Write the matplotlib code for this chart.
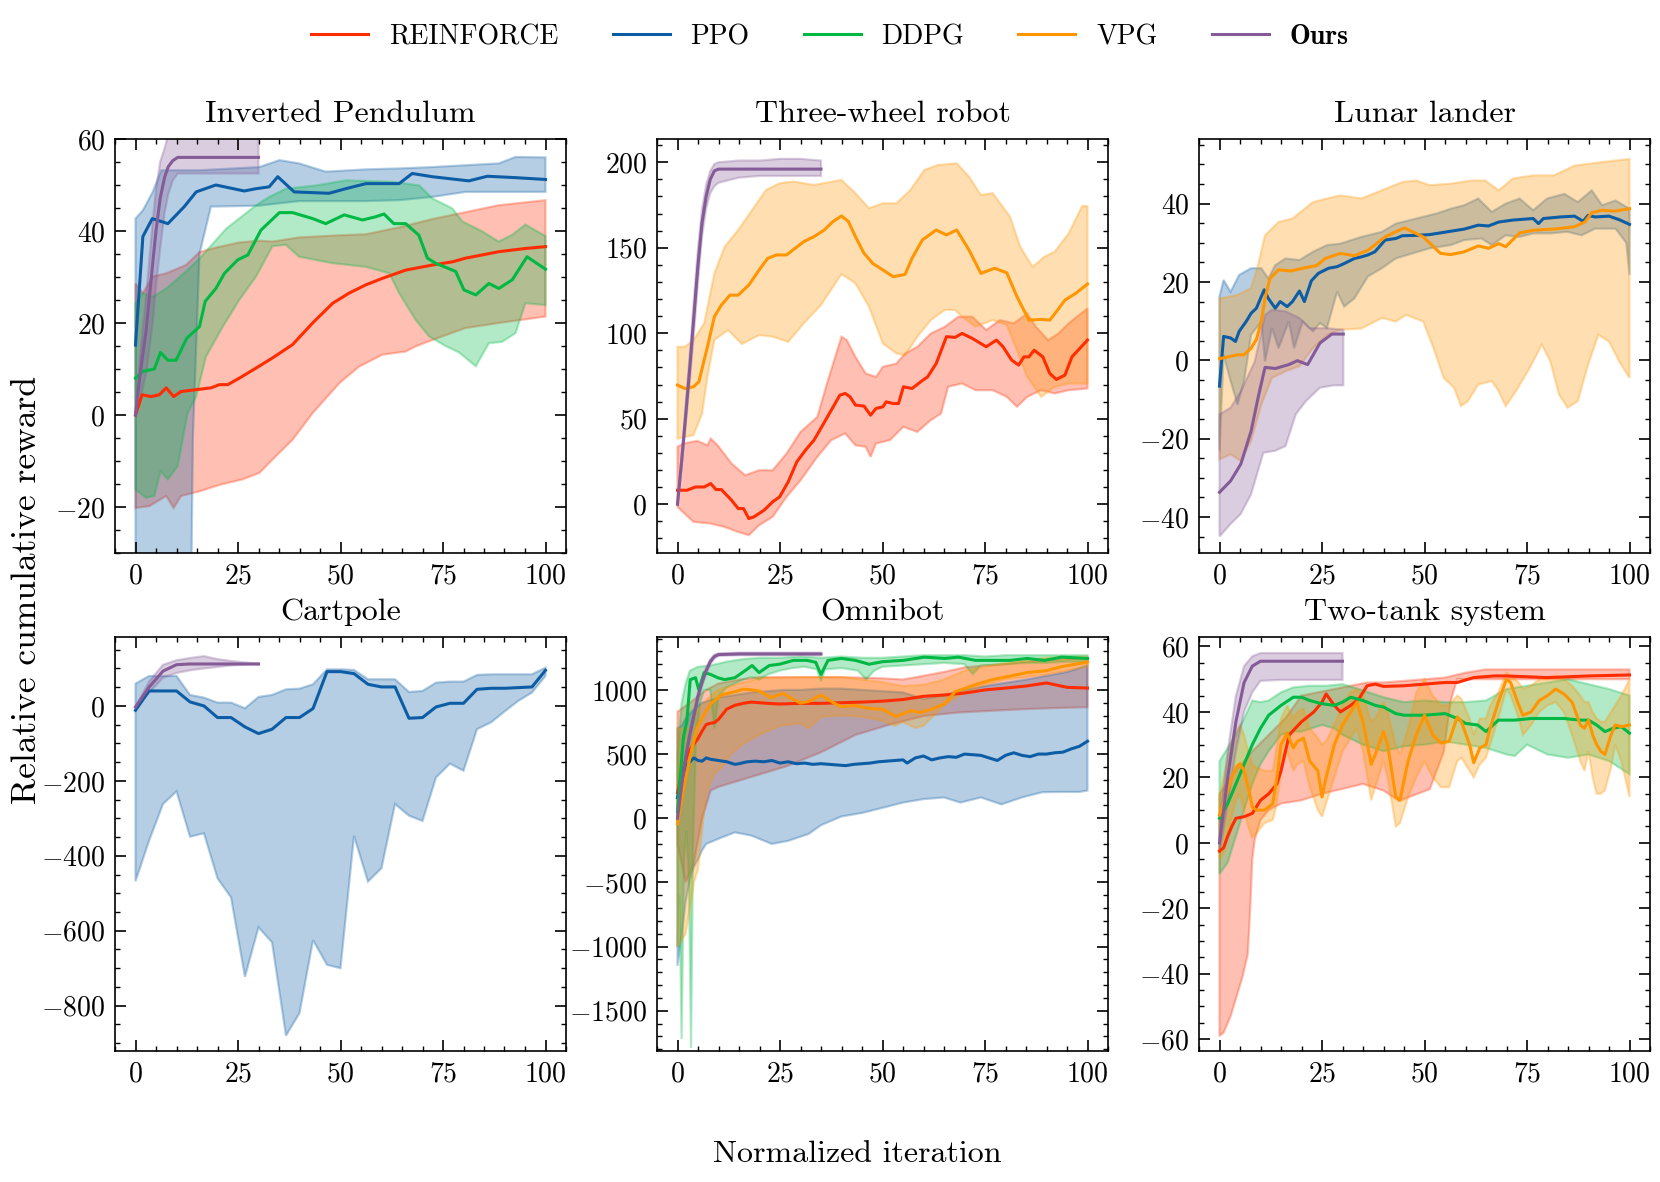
import numpy as np
import matplotlib
matplotlib.use("Agg")
import matplotlib.pyplot as plt
from matplotlib.ticker import AutoMinorLocator, FixedLocator
from matplotlib.font_manager import FontProperties
from matplotlib.lines import Line2D

plt.rcParams.update({
    "font.family": "serif",
    "font.serif": ["cmr10"],
    "mathtext.fontset": "cm",
    "axes.formatter.use_mathtext": True,
    "axes.unicode_minus": True,
    "axes.linewidth": 0.6,
    "xtick.direction": "in", "ytick.direction": "in",
    "xtick.top": True, "ytick.right": True,
    "xtick.minor.visible": True, "ytick.minor.visible": True,
    "xtick.major.size": 3.8, "ytick.major.size": 3.8,
    "xtick.minor.size": 1.9, "ytick.minor.size": 1.9,
    "xtick.major.width": 0.6, "ytick.major.width": 0.6,
    "xtick.minor.width": 0.5, "ytick.minor.width": 0.5,
    "xtick.labelsize": 10, "ytick.labelsize": 10,
})

ALGOS = ["REINFORCE", "PPO", "DDPG", "VPG", "Ours"]
COLORS = ["#FF2C00", "#0C5DA5", "#00B945", "#FF9500", "#845B97"]
TITLES = ["Inverted Pendulum", "Three-wheel robot", "Lunar lander",
          "Cartpole", "Omnibot", "Two-tank system"]
XTICKS = [0, 25, 50, 75, 100]

# ---------------- Inverted Pendulum ----------------
IP_REIN_X = [0,1.6,3.8,5.8,7.5,9.3,11.1,15.6,18.4,20.5,22.5,25.3,29.4,33.4,38.3,43.2,48.1,52.1,56.2,60.2,65.9,72.4,77.3,80.5,84.6,88.6,95.1,100]
IP_REIN_Y = [0,4.4,4,4.4,5.9,4,5.1,5.6,5.9,6.6,6.6,8,10.2,12.4,15.3,20,24.3,26.5,28.3,29.7,31.5,32.6,33.3,34.1,34.8,35.5,36.2,36.6]
IP_REIN_UX = [0,1.8,4.2,7.5,12.3,15.6,19.6,25.3,30.2,33.4,39.9,48.1,56.2,64.3,72.4,80.5,88.6,100]
IP_REIN_U = [28.6,26.5,30.1,30.8,32.6,35.4,36.4,37.5,37.9,37.7,38.6,39,39.3,40.8,42.6,44.1,45.6,46.7]
IP_REIN_LX = [0,3.4,7.5,9.3,11.1,15.6,20.5,26.1,30.2,35.1,38.3,43.2,49.7,54.5,60.2,65.9,68.3,72.4,80.5,88.6,100]
IP_REIN_L = [-20.2,-19.8,-17.6,-20.2,-17.6,-16.6,-15.2,-14,-12.6,-8.2,-5.4,0.4,6.9,10.5,13.1,13.8,14.9,16.3,18.9,20,21.4]

IP_PPO_X = [0,1.8,4.1,7.9,11.9,14.8,19.6,26.5,29.4,32.6,34.7,38.7,47.2,51.3,56.2,64.3,67.5,72.4,81.3,85.8,92.7,100]
IP_PPO_Y = [15.2,38.8,42.7,41.6,45.3,48.5,50,48.7,49.2,49.6,51.8,48.5,48.2,49.2,50.3,50.3,52.5,51.8,50.9,51.9,51.6,51.2]
IP_PPO_UX = [0,1.8,4.2,6.3,9.9,15.6,30.2,35.1,39.9,46.4,56.2,64.3,72.4,80.5,88.6,92.7,100]
IP_PPO_U = [42.7,44.5,48.5,53.2,53.2,53.2,53.9,55.4,54.7,52.9,53.4,53.6,53.9,54.3,54.7,56.1,56]
IP_PPO_LX = [0,13.5,14,14.6,15.6,18.4,30,40,56,64.3,72.4,80.5,100]
IP_PPO_L = [-45,-45,-5,10,35,45.3,45.5,46.5,46.5,46.7,47.4,48.5,48.5]

IP_DDPG_X = [0,1.8,4.6,6.1,7.9,9.9,12.5,15.6,17,19.6,21.7,24.9,27.4,30.6,35.1,38.3,43.2,46.4,50.9,55.4,58.6,60.6,63,65.9,69.1,71.2,73.2,78.1,80.1,83,86.2,88.6,91.9,95.5,100]
IP_DDPG_Y = [8,9.5,10,13.6,11.9,11.9,16.7,19.2,24.7,27.5,30.8,33.7,34.8,40.2,44,44,42.7,41.6,43.5,42.4,43.1,43.7,41.6,41.6,39.1,34.1,33,31.2,27.2,26.1,28.6,27.5,29.4,34.4,31.7]
IP_DDPG_UX = [0,1.8,4.2,7.5,12.3,15.6,22.1,29.4,32.6,36.7,44,51.3,62.7,69.2,72.4,77.3,79.7,84.6,88.6,91.9,95.1,100]
IP_DDPG_U = [24.3,26.5,25.7,27.5,31.2,34,40.5,45.6,47.4,49.2,49.9,51,50.7,49.9,47.1,44.9,42.1,39.9,37.7,39.2,41.4,38.9]
IP_DDPG_LX = [0,2.6,4.6,6.1,7.9,10.3,12.7,14.8,17.2,21.3,25.3,29.4,33.4,36.7,39.9,48.1,56.2,61.9,64.3,68.3,71.6,75.6,78.9,83,86.2,89.4,92.7,95.1,100]
IP_DDPG_L = [-16.2,-18,-17.6,-12.2,-14,-11.1,0.4,4,12.7,19.2,25,30.1,36.7,37,34.4,33,32.2,30.8,26.5,20.7,17.1,15,13.6,10.6,15.6,15.9,17.8,24.3,23.9]

IP_OURS_X = [0,1,2.6,4.2,5,6,7.1,8,9.1,10.3,15,20,25,30]
IP_OURS_Y = [0,8,18.5,33,40,47,51.7,54,55.3,56,56,56,56,56]
IP_OURS_U = [0,12,26,42,49,55,58,61,63,64,65,65,65,65]
IP_OURS_L = [0,3,9,20,28,36,44,48,51,52.5,52.5,52.5,52.5,52.5]

# ---------------- Three-wheel robot ----------------
TW_REIN_X = [0,2.3,4.4,6.5,8.1,9.4,10.7,13.2,14.8,16.1,17.4,18.6,21.1,23.2,24.9,27,29.1,31.2,33.3,35.4,37.5,39.6,40.9,42.1,43.4,45.5,47.1,48.4,50.1,50.9,52.6,53.9,55.1,57.2,59.3,61,63.1,65.6,67.7,69.4,71.9,75.3,77.8,79.4,81.5,83.2,84.5,85.7,87,89.1,90.8,92.4,94.5,96.2,100]
TW_REIN_Y = [8.2,8.2,10.1,10.1,12.1,8.6,8.6,2.3,-2.5,-2.5,-8.4,-7.4,-3.5,1.4,4.3,13.1,24.8,31.6,37.5,46.2,55,63.8,64.8,62.8,58,57.4,52.1,56,57,59.9,58.9,58.9,68.7,67.7,71.6,74.5,82.3,98,97.6,99.9,97,92.1,96,92.1,84.3,81.4,86.2,86.2,90.1,86.2,76.5,73,75.5,86.2,96]
TW_REIN_UX = [0,1.4,4.8,7.3,8.1,9.8,13.2,16.5,19.9,23.2,26.6,30,34.1,36.7,40,41.3,43.4,45.9,48.4,50.1,53.4,55.5,58.5,61.8,65.2,68.5,71.9,75.3,78.6,82,85.3,87.4,90.4,92.9,95.4,100]
TW_REIN_U = [33.6,35.5,37.1,34.5,38.4,34.5,23.8,17,19.9,19.9,29.7,42.3,51.1,72.6,98,96,86.2,76.5,74.5,80.4,82.3,88.2,92.1,99.9,103.8,109.7,109.7,101.9,107.7,105.8,111.6,103.8,96,99.9,105.8,114.5]
TW_REIN_LX = [0,3.9,8.1,11.5,14.8,17.4,19.9,23.2,26.6,30,34.1,37.5,40.9,43.4,45.9,47.1,48.4,51.8,55.1,58.5,61.8,64.3,66,69.4,72.7,76.9,80.3,82.8,85.3,88.7,92,95.4,100]
TW_REIN_L = [-1.6,-10.3,-11.3,-13.3,-16.2,-18.1,-12.3,-7.4,4.3,14,27.7,37.5,41.4,34.5,33.6,27.7,35.5,37.5,45.3,42.3,49.2,53.1,68.7,70.6,66.7,66.7,62.8,57,62.8,66.7,64.8,66.7,67.7]

TW_VPG_X = [0,1.8,3.9,5.2,7.3,9,10.7,12.8,14.8,17.4,19.9,22,24.1,26.6,28.7,30.8,33.3,35.8,37.9,40,41.7,43.4,45.5,47.6,50.1,52.6,55.5,57.2,59.7,63.1,65.6,68.1,71.1,74,77.3,80.3,82.8,85.7,88.7,90.8,92.4,94.5,97.1,100]
TW_VPG_Y = [69.7,67.7,68.7,71.6,92.1,109.7,116.5,122.3,122.3,128.2,137,143.8,145.8,145.8,149.7,153.6,156.5,160.4,165.3,168.6,165.3,156.5,146.7,140.9,137,133.1,134.4,143.8,154.5,160.4,157.5,160.4,148.7,135,138,135.4,121.4,107.7,108.1,107.7,112.6,119.4,123.3,128.8]
TW_VPG_UX = [0,1.8,3.9,6.5,9,11.5,14.8,18.2,21.6,24.9,28.3,33.3,40,43.4,46.7,50.1,53.4,56.8,60.2,63.5,68.1,71.1,74,76.9,81.1,83.6,86.6,89.5,92,95.4,98.7,100]
TW_VPG_U = [92.1,92.1,96,105.8,135,150.6,160.4,172.1,183.8,187.7,188.7,186.7,189.7,181.9,173.1,176,176,183.8,195.5,198.4,199.4,191.6,180.9,181.9,168.2,150.6,138.9,144.8,147.7,158.4,174.4,174.4]
TW_VPG_LX = [0,3.9,6,7.3,9,12.3,15.7,19.9,23.2,27,30.8,35,40,43.4,46.7,50.1,53.4,55.5,58.5,61.8,65.2,67.7,69.4,72.7,76.9,80.3,82.8,85.3,88.7,92,95.4,100]
TW_VPG_L = [38.4,40.4,53.1,74.5,96,101.9,93.7,98.9,98,95,105.8,116.5,134.6,129.2,115.5,94,88.2,87.2,98,107.7,113.6,113.6,109.7,103.8,107.7,104.8,90.1,74.5,62.8,68.7,70.6,70.6]

TW_OURS_X = [0,1,2,3,4,5,6,7,8,9,10,15,20,25,30,35]
TW_OURS_Y = [0,25,52,80,110,140,165,180,190,195,196,196,196,196,196,196]
TW_OURS_U = [0,28,58,88,120,150,173,187,195,199,200,201,201,202,202,201]
TW_OURS_L = [0,22,46,72,100,130,157,173,182,186,188,191,192,192,192,192]

# ---------------- Lunar lander ----------------
LL_PPO_X = [0,1,2.7,3.9,4.8,6.5,7.7,9,10.9,11.9,13.6,14.8,16.5,17.8,19.5,20.7,22.4,24.1,26.6,28.7,30.4,32.9,34.6,36.2,37.9,40.4,43,44.6,48,51.3,55.5,59.7,63.1,65.6,68.1,71.5,76.5,77.8,79,83.2,86.6,88.7,89.9,91.6,95,97.5,100]
LL_PPO_Y = [-6.6,6.1,5.7,4.8,7.4,9.9,12,13.3,18,15.8,13.3,15,13.7,15,17.7,15,20.3,22.2,23.5,23.9,24.7,26,26.4,26.9,27.7,30.7,31.1,31.8,31.9,32.1,32.8,33.5,34.5,34.3,35.3,35.8,36.2,34.9,36.2,36.6,36.8,35.5,37,36.6,36.8,35.9,34.7]
LL_PPO_UX = [0,1,2.7,4.8,7.7,10.2,11.9,13.6,16.1,19.5,22.8,26.2,29.5,34.6,39.6,43,48,53,56.4,59.7,63.1,66.4,69.8,73.2,76.5,79.9,84.1,87.4,90.8,93.3,96.6,100]
LL_PPO_U = [16.3,20.5,17.5,21.8,23.5,23.5,20.9,24.3,26,25.6,27.7,29.4,29.8,31.5,32.8,34.9,36.2,37.5,38.7,39.6,41.3,37.9,40,41.3,38.3,41.3,42.5,40.4,43.4,39.6,40.8,38.7]
LL_PPO_LX = [0,1,2.7,4.4,6,7.7,10.2,11.1,12.8,14.4,16.9,18.2,20.3,22.8,24.5,26.2,28.7,30.4,32.9,36.2,39.6,43,47.1,51.3,56.4,59.7,63.9,66.4,69.8,73.2,76.5,80.7,84.9,88.3,91.6,96.6,99.2,100]
LL_PPO_L = [-23.1,1.4,-5.3,-11.3,-5.3,6.5,9.9,-0.3,8.2,3.1,9.9,3.1,9.9,7.4,9.5,8.2,17.5,13.7,15.8,21.4,23.5,26,27.3,28.6,29.4,30.7,31.1,29.4,31.9,31.5,32.4,32.4,32.8,31.9,33.6,33.6,30,21.8]

LL_VPG_X = [0,2.7,4.4,6,7.7,9,10.2,11.1,12.3,14.4,17.4,20.3,23.7,25.8,29.5,32.9,36.2,40.4,43,45.1,47.1,49.7,52.2,53.9,56.4,59.7,63.1,65.6,68.1,69.8,73.2,76.5,81.5,86.6,89.1,90.8,93.3,96.6,100]
LL_VPG_Y = [0.4,1,1.4,1.4,3.1,5.3,9.9,15.8,20.9,23.1,22.8,23.5,24.2,26,27.3,26.7,28.1,31.5,32.8,33.8,32.8,31.5,29,27.3,27,27.7,29.2,28.6,29.8,29,32.5,33.2,33.5,34.1,35.3,37.7,38.3,38.1,38.7]
LL_VPG_UX = [0,4.4,7.7,9.4,11.1,14.4,17.8,22.8,26.2,29.5,34.6,39.6,44.6,48,51.3,56.4,61.4,64.8,68.1,71.5,76.5,81.5,86.6,93.3,100]
LL_VPG_U = [15.8,16.7,18.4,24.3,31.9,35.3,36.2,40.4,41.3,42.1,41.3,43.4,45.5,45.9,44.7,45.1,45.9,45.9,43.4,46.4,47.2,47.2,49.7,50.6,51.4]
LL_VPG_LX = [0,2.7,5.2,7.7,10.2,12.8,16.1,19.5,22.8,26.2,29.5,34.6,39.6,43,45.5,49.7,52.2,54.7,57.2,58.9,60.6,63.1,66.4,68.1,69.8,72.3,75.7,78.6,80.7,82.8,84.9,87.4,89.9,92.4,95,97.5,100]
LL_VPG_L = [-25.3,-24,-25.7,-20.6,-11.3,-4.5,-2.8,-1.5,3.1,6.5,7.8,8.1,10.8,9.9,11.6,9.9,3.1,-4.5,-7,-11.7,-10.4,-6.2,-5.3,-7.9,-11.7,-7.9,-1.9,4,-0.3,-8.7,-12.1,-10.4,-1.1,6.5,4.8,-0.3,-4.5]

LL_OURS_X = [0,2.7,5.2,7.7,9.4,11.1,13.6,16.9,19,21.5,24.5,27.4,30.2]
LL_OURS_Y = [-33.7,-30.8,-26.5,-18.1,-9.6,-1.8,-2.1,-1.1,-0.1,-1.1,4.4,6.7,6.7]
LL_OURS_UX = [0,2.7,5.2,8.6,11.1,12.8,16.1,19.5,22,26.2,30.2]
LL_OURS_U = [-13.8,-12.1,-7.9,-0.3,11.6,12.9,12.5,10.8,8.2,8.2,7.8]
LL_OURS_LX = [0,2.7,5.2,7.7,9.4,10.7,13.6,16.1,18.6,21.1,24.5,27.9,30.2]
LL_OURS_L = [-45,-41.8,-39.2,-34.2,-28.2,-23.6,-23.1,-21.9,-13.8,-10.4,-7,-6.4,-6.4]

# ---------------- Cartpole ----------------
CP_PPO_X = [0,3.3,6.7,10,13.3,16.7,20,23.3,26.7,30,33.3,36.7,40,43.3,46.7,50,53.3,56.7,60,63.3,66.7,70,73.3,76.7,80,83.3,86.7,90,93.3,96.7,100]
CP_PPO_Y = [-11.6,40,40,40,10.7,0,-31,-31,-56,-73.8,-62.2,-31,-31,-7,91.6,91.6,86.2,57.8,50.7,50.7,-32.9,-31,-2.7,7.1,7.1,44.4,47.1,47.1,48.9,50.7,95.1]
CP_PPO_U = [59.6,80,80,80,29.3,22.2,8.9,8.9,-6.2,24,29.3,44.4,46.2,57.8,97.8,97.8,96,71.1,71.1,71.1,37.3,40,62.2,64.9,64.9,82.7,84.4,84.4,84.4,84.4,102.2]
CP_PPO_L = [-468,-360,-262,-228,-349,-340,-460,-511,-723,-591,-631,-880,-820,-625,-691,-700,-347,-469,-433,-262,-293,-307,-191,-154,-173,-62,-44,-15,13,35.6,80]

CP_OURS_X = [0,3.3,6.7,10,13.3,16.7,20,23.3,26.7,30]
CP_OURS_Y = [-3,50,93,110,112,112,112,112,112,112]
CP_OURS_U = [-3,65,110,122,128,133,125,120,116,113]
CP_OURS_L = [-3,35,75,88,95,100,104,108,110,111]

# ---------------- Omnibot ----------------
OB_REIN_X = [0,1,2,3,4,5,6,7,8,9,10,11,12,14,16,18,20,22,25,30,35,40,45,50,55,60,65,70,75,80,85,90,95,100]
OB_REIN_Y = [200,350,450,530,580,620,680,730,740,745,770,810,850,880,895,905,900,895,890,895,895,900,905,912,925,950,960,975,1000,1014,1030,1054,1020,1014]
OB_REIN_UX = [0,3,7,10,15,20,25,30,40,50,55,60,65,70,75,80,85,90,95,100]
OB_REIN_U = [830,900,1000,1050,1080,1100,1100,1100,1100,1090,1081,1110,1140,1176,1190,1200,1220,1230,1240,1250]
OB_REIN_LX = [0,2,4,6,8.1,9.8,18.2,26.6,35,43.4,51.8,60.2,68.5,76.9,85.3,93.7,100]
OB_REIN_L = [-200,-500,-350,0,216,243,324,405,514,649,730,797,824,838,851,860,865]

OB_PPO_X = [0,1,2,3,4,5,6,7,8,10,12,14,15,17,19,21,23,25,27,29,31,33,35,37,39,41,43,45,47,49,51,53,55,56,58,60,62,64,66,68,70,72,74,76,78,80,82,84,86,88,90,92,94,96,98,100]
OB_PPO_Y = [160,300,400,440,470,450,445,470,460,450,440,420,425,440,445,440,450,430,440,425,430,420,425,420,415,410,420,425,430,440,445,450,455,430,470,485,455,470,480,475,500,495,490,470,450,490,510,490,480,500,500,510,515,540,560,600]
OB_PPO_UX = [0,1,2,4,6,8,10,14,18,22,26,30,35,40,45,50,55,60,65,70,75,80,85,90,95,100]
OB_PPO_U = [700,720,780,850,900,920,940,960,980,990,1000,1000,1010,1010,1000,990,980,930,960,1000,1030,1055,1080,1110,1140,1190]
OB_PPO_LX = [0,1,2,3,4,5,6,7,10,14,18,23,27,32,35,40,45,50,55,60,65,69,74,79,84,89,94,98,100]
OB_PPO_L = [-1150,-900,-650,-480,-380,-320,-250,-200,-160,-110,-135,-200,-176,-122,-54,14,41,81,122,149,162,122,162,108,162,203,205,205,216]

OB_DDPG_X = [0,1.4,2.3,3.1,4.4,5.2,6.5,8.1,9.8,11.5,14,16.5,18.2,19.9,22.4,24.9,28.3,31.6,33.7,35,36.7,40,43.4,46.7,50.1,55.1,60.2,65.2,68.5,72.7,76.9,81.1,85.3,89.5,93.7,100]
OB_DDPG_Y = [50,620,760,1080,1095,1000,1135,1120,1095,1080,1095,1150,1190,1135,1190,1200,1230,1230,1215,1120,1230,1245,1230,1200,1220,1230,1255,1245,1255,1230,1230,1230,1245,1230,1255,1245]
OB_DDPG_UX = [0,1,2,3,5,8,12,16,20,25,30,35,40,45,50,55,60,65,70,75,80,85,90,95,100]
OB_DDPG_U = [500,900,1050,1150,1180,1190,1220,1240,1250,1250,1260,1250,1260,1250,1250,1260,1270,1270,1270,1260,1270,1270,1270,1270,1270]
OB_DDPG_LX = [0,0.5,1,1.6,2.2,2.8,3.3,3.8,4.5,5.5,6.5,8,9,10,12,14,16,18,20,22,25,28,31,34,35,36,40,44,46,48,50,55,60,65,70,72,74,80,85,90,95,100]
OB_DDPG_L = [-1000,-600,-1720,-300,-100,-500,-1790,-200,600,900,1000,1000,700,950,1020,1050,1080,1100,1080,1120,1150,1170,1180,1160,1068,1160,1170,1150,1081,1150,1180,1190,1200,1210,1200,1122,1190,1200,1210,1210,1220,1220]

OB_VPG_X = [0,1.4,3.1,4.8,6.5,8.1,10.7,14,16,18.2,20,22.8,25.8,28,30,32,35,38,40,43.4,46,48.4,50,53.3,56.8,59.3,62,65.2,67.7,70,72.7,76.9,80,85.3,90,93.7,97,100]
OB_VPG_Y = [-41,216,487,703,811,892,960,986,1005,1000,990,940,973,930,897,910,960,900,870,878,860,851,850,792,838,824,850,892,986,1010,1041,1081,1100,1135,1150,1181,1200,1216]
OB_VPG_UX = [0,3,5,8,10,15,20,30,40,50,55,60,65,70,75,80,90,100]
OB_VPG_U = [700,700,850,950,1000,1050,1090,1100,1100,1060,1030,1040,1080,1150,1180,1210,1250,1260]
OB_VPG_LX = [0,2,3,4,5,6,7,9,11,13,16,20,25,30,32,35,40,45,50,53,55,58,60,65,70,75,80,90,100]
OB_VPG_L = [-1000,-900,-700,-500,-400,-100,200,350,400,500,580,650,720,740,700,790,800,790,760,720,750,703,720,880,980,1040,1080,1120,1180]

OB_OURS_X = [0,1,2,3,4,5,6,7,8,9,10,15,20,25,30,35]
OB_OURS_Y = [0,250,480,650,800,950,1060,1150,1220,1260,1275,1280,1280,1280,1280,1280]
OB_OURS_U = [0,270,510,680,830,980,1090,1175,1240,1275,1285,1290,1290,1290,1290,1290]
OB_OURS_L = [0,230,450,620,770,920,1030,1125,1200,1245,1265,1270,1270,1270,1270,1270]

# ---------------- Two-tank system ----------------
TT_REIN_X = [0,1,2,3,4,6,8,10,12,14,15,17,20,23,25,26,28,29.5,32,34,36,38,40,45,50,55,58,62,67,70,80,90,100]
TT_REIN_Y = [-2.5,-1.5,2,5,7.5,8,9,13,15,18,22,33,37,40,43,45.5,42,40,42,44,48,48.5,47.8,48,48.5,49,49,50.5,51,51,50.5,51,51.3]
TT_REIN_UX = [0,4,8,12,16,20,24,28,32,36,40,50,55,60,65,100]
TT_REIN_U = [15,22,28,33,38,45,46,47,48,49,49,50,50.5,52,53,53]
TT_REIN_LX = [0,1,2.7,4.4,5.6,6.9,7.5,8,8.6,10,12,15,20,25,30,35,40,43.8,51.3,54.7,56.4,58,60,70,100]
TT_REIN_L = [-59,-58,-53,-46,-41,-34,-20,-5,1,7,10,12,13,15,16.5,18,16,12.8,16.4,27.8,43.4,50.1,50,50,50]

TT_DDPG_X = [0,2,4,6,8,10,12,15,18,20,22,25,28,30,32,35,38,40,43,45,50,55,58,60,63,65,68,72,76,80,84,88,90,92,94,96,98,100]
TT_DDPG_Y = [7.5,12,18,24,30,35,39,42,44.5,44.5,43.5,42.5,42,43,44.5,43.5,42,41.5,39.5,39,39,39.5,38,36.5,36,34,37.5,37.5,38,38,38,37.5,37.5,36,34,35,35.5,33.5]
TT_DDPG_UX = [0,2,4,6,8,10,12,15,18,22,26,30,34,40,45,50,55,60,65,70,75,80,85,90,95,100]
TT_DDPG_U = [25,29,33,38,43.5,43,43.5,46,47.5,48,48,48.5,47,44.5,43,43.5,43,43,43.5,47,48,49,50,48.5,47,45]
TT_DDPG_LX = [0,2,4,6,8,10,12,15,18,20,25,28,30,35,40,45,50,55,60,65,70,72,75,80,85,90,95,100]
TT_DDPG_L = [-9.5,-6,2,10,18,24,28,33,34,34,36,35,33,30,28,29.5,30,31,30,29,27,26.5,30,27,26,27,25,21]

TT_VPG_X = [0,1,2,3,4,5,6,7,8,9,11,13,14,15,16.5,18,19,20.5,22,24,25,26,28,30,32,33.5,35,37,38,40,41,43,44,46,48,50,52,54,56,58,59,61,62,63.5,65,66,68,70,71,73,74,76,78,80,82,84,86,88,89,90,91,92,93,94,95.5,96.5,98,100]
TT_VPG_Y = [8.5,12,16,20,23,24.2,22,17,11,10,10,12,20,30,33.5,29,31,32,25,22,14,20,30,36,40,43,37,24,27,34,30,14,13,25,33,39,33,30.5,31,38.5,37,30,24.5,29,30,35,43,50,49,42,39,40,43.5,45,47,45.5,43,36,35,37.5,33,30,28,27,33,36,35.5,36]
TT_VPG_U = [14,20,26,31,34,36,33,28,24,23,22,22,30,38,42,38,40,41,35,32,30,31,36,42,46,47,45,37,38,43,40,30,27,35,46,50,45,42,42,45,44,38,33,38,38,42,46,52,51,49,47,48,50,50,51,50,48,45,43,43,40,38,37,37,40,42,45,50]
TT_VPG_L = [-5,-3,2,8,13,15,10,5,1.5,3,6,7,12,22,28,22,24,25,17,10,8,12,20,28,32,35,28,13,17,25,20,5,6,14,20,25,20,17,17,25,26,22,20,24,26,30,38,47,45,38,33,36,40,42,43,40,33,25,22,28,20,15,15,16,23,30,25,14]

TT_OURS_X = [0,2,4,6,8,10,15,20,25,30]
TT_OURS_Y = [0,20,37,49,54,55.5,55.5,55.5,55.5,55.5]
TT_OURS_U = [5,28,45,54,57,58,58,58,58,58]
TT_OURS_L = [-3,12,28,40,46,49.5,49.8,49.8,49.8,49.8]

# series: (algo index, x, mean, upper-x, upper, lower-x, lower)
PANEL_SERIES = [
    [(0, IP_REIN_X, IP_REIN_Y, IP_REIN_UX, IP_REIN_U, IP_REIN_LX, IP_REIN_L),
     (1, IP_PPO_X, IP_PPO_Y, IP_PPO_UX, IP_PPO_U, IP_PPO_LX, IP_PPO_L),
     (2, IP_DDPG_X, IP_DDPG_Y, IP_DDPG_UX, IP_DDPG_U, IP_DDPG_LX, IP_DDPG_L),
     (4, IP_OURS_X, IP_OURS_Y, IP_OURS_X, IP_OURS_U, IP_OURS_X, IP_OURS_L)],
    [(0, TW_REIN_X, TW_REIN_Y, TW_REIN_UX, TW_REIN_U, TW_REIN_LX, TW_REIN_L),
     (3, TW_VPG_X, TW_VPG_Y, TW_VPG_UX, TW_VPG_U, TW_VPG_LX, TW_VPG_L),
     (4, TW_OURS_X, TW_OURS_Y, TW_OURS_X, TW_OURS_U, TW_OURS_X, TW_OURS_L)],
    [(1, LL_PPO_X, LL_PPO_Y, LL_PPO_UX, LL_PPO_U, LL_PPO_LX, LL_PPO_L),
     (3, LL_VPG_X, LL_VPG_Y, LL_VPG_UX, LL_VPG_U, LL_VPG_LX, LL_VPG_L),
     (4, LL_OURS_X, LL_OURS_Y, LL_OURS_UX, LL_OURS_U, LL_OURS_LX, LL_OURS_L)],
    [(1, CP_PPO_X, CP_PPO_Y, CP_PPO_X, CP_PPO_U, CP_PPO_X, CP_PPO_L),
     (4, CP_OURS_X, CP_OURS_Y, CP_OURS_X, CP_OURS_U, CP_OURS_X, CP_OURS_L)],
    [(0, OB_REIN_X, OB_REIN_Y, OB_REIN_UX, OB_REIN_U, OB_REIN_LX, OB_REIN_L),
     (1, OB_PPO_X, OB_PPO_Y, OB_PPO_UX, OB_PPO_U, OB_PPO_LX, OB_PPO_L),
     (2, OB_DDPG_X, OB_DDPG_Y, OB_DDPG_UX, OB_DDPG_U, OB_DDPG_LX, OB_DDPG_L),
     (3, OB_VPG_X, OB_VPG_Y, OB_VPG_UX, OB_VPG_U, OB_VPG_LX, OB_VPG_L),
     (4, OB_OURS_X, OB_OURS_Y, OB_OURS_X, OB_OURS_U, OB_OURS_X, OB_OURS_L)],
    [(0, TT_REIN_X, TT_REIN_Y, TT_REIN_UX, TT_REIN_U, TT_REIN_LX, TT_REIN_L),
     (2, TT_DDPG_X, TT_DDPG_Y, TT_DDPG_UX, TT_DDPG_U, TT_DDPG_LX, TT_DDPG_L),
     (3, TT_VPG_X, TT_VPG_Y, TT_VPG_X, TT_VPG_U, TT_VPG_X, TT_VPG_L),
     (4, TT_OURS_X, TT_OURS_Y, TT_OURS_X, TT_OURS_U, TT_OURS_X, TT_OURS_L)],
]

YLIMS = [(-30, 60), (-28.5, 213.6), (-49.2, 56.5), (-921, 184), (-1813, 1412), (-63.6, 62.9)]
YTICKS = [[-20, 0, 20, 40, 60], [0, 50, 100, 150, 200], [-40, -20, 0, 20, 40],
          [-800, -600, -400, -200, 0], [-1500, -1000, -500, 0, 500, 1000],
          [-60, -40, -20, 0, 20, 40, 60]]

W, H = 1660, 1182
fig = plt.figure(figsize=(W / 200, H / 200), dpi=200)

COL_L = [115, 657, 1199]
AX_W = 451
ROW_T = [139, 637]
AX_H = 414

for i in range(6):
    r, c = divmod(i, 3)
    l, t = COL_L[c], ROW_T[r]
    ax = fig.add_axes([l / W, 1 - (t + AX_H) / H, AX_W / W, AX_H / H])
    for (k, x, y, ux, u, lx, lo) in PANEL_SERIES[i]:
        px = np.concatenate([np.asarray(ux, float), np.asarray(lx, float)[::-1]])
        py = np.concatenate([np.asarray(u, float), np.asarray(lo, float)[::-1]])
        ax.fill(px, py, color=COLORS[k], alpha=0.3, lw=0.8, zorder=1)
    for (k, x, y, ux, u, lx, lo) in PANEL_SERIES[i]:
        ax.plot(x, y, color=COLORS[k], lw=1.1, zorder=3)
    ax.set_xlim(-5, 105)
    ax.set_ylim(*YLIMS[i])
    ax.xaxis.set_major_locator(FixedLocator(XTICKS))
    ax.yaxis.set_major_locator(FixedLocator(YTICKS[i]))
    ax.xaxis.set_minor_locator(AutoMinorLocator())
    ax.yaxis.set_minor_locator(AutoMinorLocator())
    ax.set_title(TITLES[i], fontsize=11.5, pad=6)

handles = [Line2D([], [], color=c, lw=1.1) for c in COLORS]
leg = fig.legend(handles, ALGOS, loc="center", bbox_to_anchor=(0.5, 1 - 37 / H),
                 ncol=5, frameon=False, fontsize=10, handlelength=2.05,
                 handletextpad=0.75, columnspacing=1.95)
leg.get_texts()[4].set_fontproperties(FontProperties(family="cmb10", size=10))

fig.text(27 / W, 1 - 590 / H, "Relative cumulative reward", rotation=90,
         ha="center", va="center", fontsize=12.8)
fig.text(857 / W, 1 - 1154 / H, "Normalized iteration", ha="center",
         va="center", fontsize=11.5)

fig.savefig("out.png", dpi=200)
